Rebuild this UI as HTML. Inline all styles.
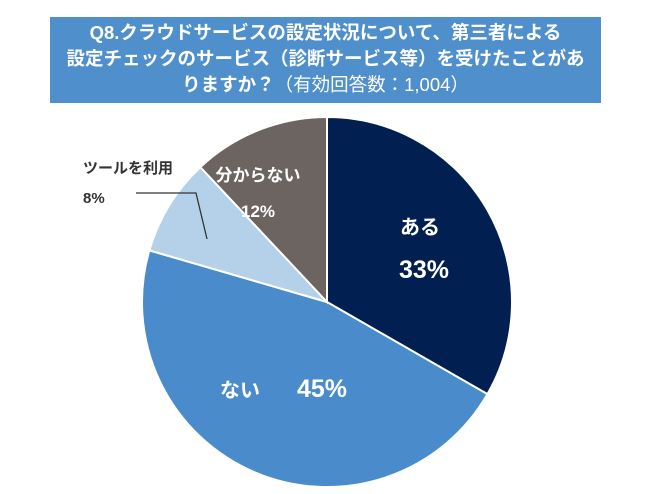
<!DOCTYPE html>
<html><head><meta charset="utf-8"><style>
body{margin:0;width:650px;height:494px;background:#fff;overflow:hidden;font-family:"Liberation Sans","Noto Sans CJK JP",sans-serif;}
#title{position:absolute;left:50px;top:17px;width:551px;height:86px;background:#4f8fcc;color:#fff;font-weight:bold;font-size:18.5px;line-height:26px;text-align:center;padding-top:3px;box-sizing:border-box;white-space:nowrap;}
.n{font-weight:normal}
svg{position:absolute;left:0;top:0}
</style></head><body>
<div id="title">Q8.クラウドサービスの設定状況について、第三者による<br>設定チェックのサービス（診断サービス等）を受けたことがあ<br>りますか？<span class="n">（有効回答数：1,004）</span></div>
<svg id="chart" width="650" height="494"></svg>
<script>
const categories=["ある","ない","ツールを利用","分からない"];
const values=[33.3,46.2,8.5,12.0];
const printed=["33%","45%","8%","12%"];
const colors=["#021f52","#4a8bcb","#b5d1ea","#6b6460"];
const cx=327,cy=302,r=185;
const svg=document.getElementById('chart');
const NS="http://www.w3.org/2000/svg";
const total=values.reduce((a,b)=>a+b,0);
function pt(a,rr){return [cx+rr*Math.sin(a),cy-rr*Math.cos(a)];}
let a0=0;
values.forEach((v,i)=>{
  const a1=a0+v/total*2*Math.PI;
  const p0=pt(a0,r),p1=pt(a1,r);
  const large=(a1-a0)>Math.PI?1:0;
  const p=document.createElementNS(NS,'path');
  p.setAttribute('d',`M${cx},${cy}L${p0[0]},${p0[1]}A${r},${r} 0 ${large} 1 ${p1[0]},${p1[1]}Z`);
  p.setAttribute('fill',colors[i]);p.setAttribute('stroke','#fff');p.setAttribute('stroke-width','2');
  
  
  svg.appendChild(p);
  a0=a1;
});
function txt(x,y,s,size,fill,anchor){
  const t=document.createElementNS(NS,'text');
  t.setAttribute('x',x);t.setAttribute('y',y);t.setAttribute('font-size',size);
  t.setAttribute('font-weight','bold');t.setAttribute('fill',fill);t.setAttribute('text-anchor',anchor||'middle');
  t.textContent=s;
  
  
  svg.appendChild(t);
}
txt(420,234,categories[0],20,'#fff');
txt(424,278,printed[0],25,'#fff');
txt(240,397,categories[1],20,'#fff');
txt(322,397,printed[1],25,'#fff');
txt(83,173,categories[2],15,'#333','start');
txt(83,203,printed[2],15,'#333','start');
txt(258,181,categories[3],17,'#fff');
txt(258,217,printed[3],17,'#fff');
const l=document.createElementNS(NS,'polyline');
l.setAttribute('points','136,193 196,193 207,239');
l.setAttribute('fill','none');l.setAttribute('stroke','#333');l.setAttribute('stroke-width','1.3');


svg.appendChild(l);
</script>
</body></html>
